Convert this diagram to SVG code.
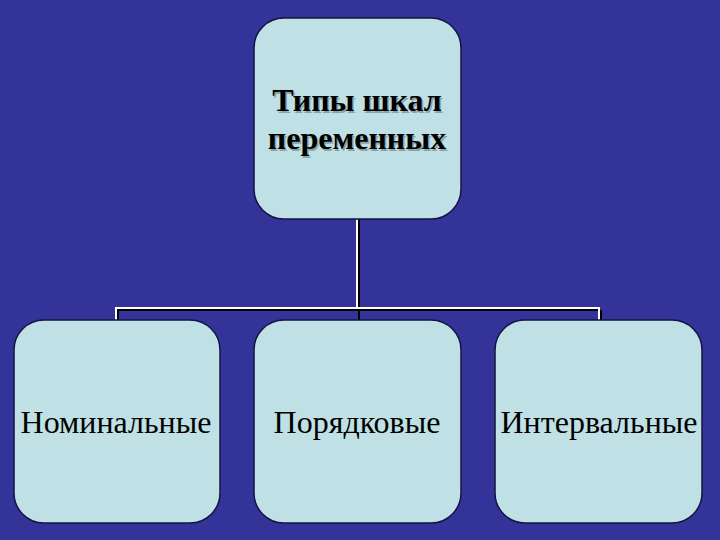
<svg xmlns="http://www.w3.org/2000/svg" width="720" height="540" viewBox="0 0 720 540">
<style>
.node{fill:#bfe1e5;stroke:#141440;stroke-width:1.5}
.t{font-family:'Liberation Serif','Times New Roman',serif;fill:#000;text-anchor:middle}
.b{font-weight:bold;font-size:32px}
.r{font-size:32px}
.s{fill:#6a7a80;opacity:0.6}
.ln{fill:none;stroke:#fff;stroke-width:2}
.sh{fill:none;stroke:#000;stroke-width:2}
</style>
<rect width="720" height="540" fill="#333399"/>
<g id="connectors">
<path class="sh" d="M359 219V320M118 310V320M601 310V320M116 310H599"/>
<path class="ln" d="M357 219V308M116 320V308H599V320"/>
</g>
<g id="top">
<rect class="node" x="254" y="18" width="207" height="201" rx="30"/>
<text class="t b s" x="358.5" y="112.5">Типы шкал</text>
<text class="t b s" x="358.5" y="150.5">переменных</text>
<text class="t b" x="357" y="111">Типы шкал</text>
<text class="t b" x="357" y="149">переменных</text>
</g>
<g id="nom">
<rect class="node" x="14" y="320" width="206" height="203" rx="30"/>
<text class="t r" x="116" y="433">Номинальные</text>
</g>
<g id="por">
<rect class="node" x="254" y="320" width="207" height="203" rx="30"/>
<text class="t r" x="357" y="433">Порядковые</text>
</g>
<g id="int">
<rect class="node" x="495" y="320" width="207" height="203" rx="30"/>
<text class="t r" x="599" y="433">Интервальные</text>
</g>
</svg>
